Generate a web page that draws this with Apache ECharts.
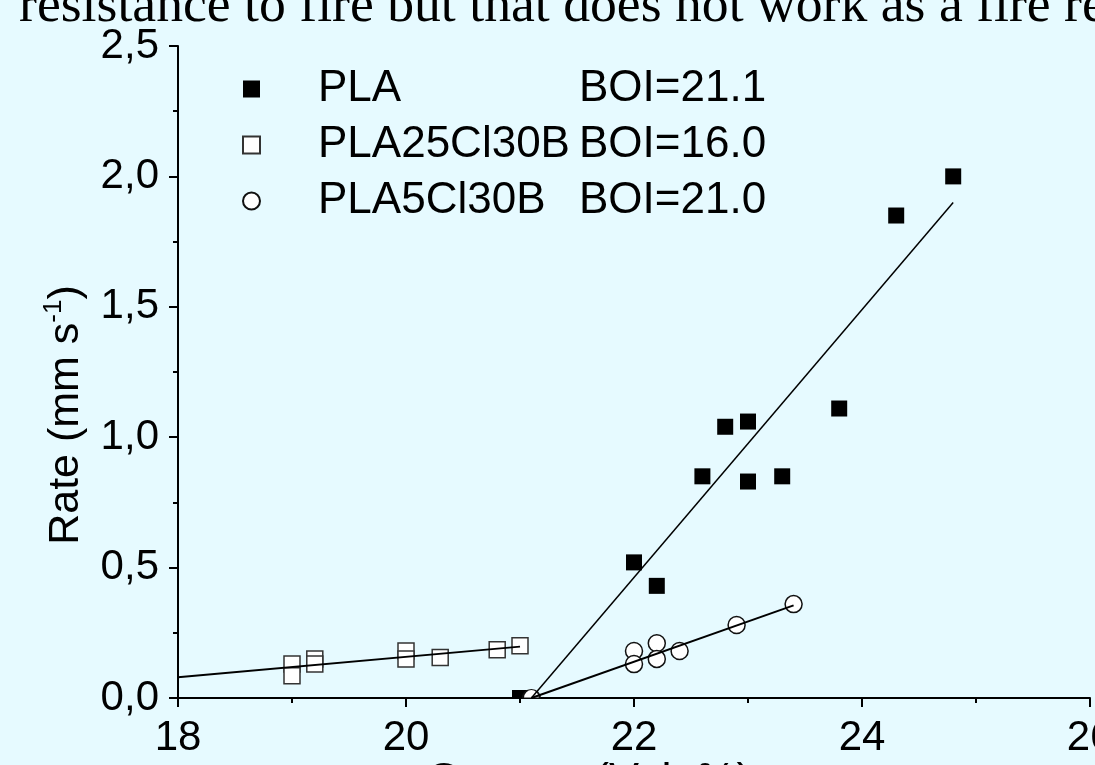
<!DOCTYPE html>
<html>
<head>
<meta charset="utf-8">
<script src="https://cdn.jsdelivr.net/npm/echarts@6/dist/echarts.min.js"></script>
<style>
html,body{margin:0;padding:0;background:#E6FAFF;}
#chart{width:1095px;height:765px;}
</style>
</head>
<body>
<div id="chart"></div>
<script>
// ---- data ----
const seriesNames = ['PLA', 'PLA25Cl30B', 'PLA5Cl30B'];
const boiValues = ['21.1', '16.0', '21.0'];

const plaX = [21.0, 22.0, 22.2, 22.6, 22.8, 23.0, 23.0, 23.3, 23.8, 24.3, 24.8];
const plaY = [0.0, 0.52, 0.43, 0.85, 1.04, 1.06, 0.83, 0.85, 1.11, 1.85, 2.00];

const cl25X = [19.0, 19.0, 19.2, 19.2, 20.0, 20.0, 20.3, 20.8, 21.0];
const cl25Y = [0.13, 0.085, 0.15, 0.13, 0.18, 0.15, 0.155, 0.185, 0.20];

const cl5X = [21.1, 22.0, 22.0, 22.2, 22.2, 22.4, 22.9, 23.4];
const cl5Y = [0.0, 0.18, 0.13, 0.21, 0.15, 0.18, 0.28, 0.36];

const plaFitX = [21.1, 24.8];
const plaFitY = [0.0, 1.90];
const cl25FitX = [18.0, 21.0];
const cl25FitY = [0.08, 0.197];
const cl5FitX = [21.1, 23.4];
const cl5FitY = [0.0, 0.355];

const xTicks = { min: 18, max: 26, interval: 2 };
const yTicks = { min: 0, max: 2.5, interval: 0.5 };

const titleText = 'resistance to fire but that does not work as a fire retardant';
const xName = 'Oxygen (Vol. %)';

// ---- helpers ----
const SANS = '"Liberation Sans", Arial, sans-serif';
const SERIF = '"Liberation Serif", "Times New Roman", serif';
const pairs = (xs, ys) => xs.map((x, i) => [x, ys[i]]);
const halfSquare = 'path://M0,0 L16,0 L16,8 L0,8 Z';
const halfCircle = 'path://M0,10 A10,10 0 0 1 20,10 Z';
function withHalf(xs, ys, sym, size) {
  return xs.map((x, i) => {
    if (ys[i] === 0) {
      return { value: [x, ys[i]], symbol: sym, symbolSize: [size, size / 2], symbolOffset: [0, -size / 4] };
    }
    return [x, ys[i]];
  });
}

const chart = echarts.init(document.getElementById('chart'), null, { renderer: 'canvas' });

const option = {
  backgroundColor: '#E6FAFF',
  animation: false,
  grid: { left: 178, right: 5, top: 46, bottom: 67, containLabel: false, outerBoundsMode: 'none' },
  xAxis: {
    type: 'value',
    min: xTicks.min, max: xTicks.max, interval: xTicks.interval,
    axisLine: { show: true, lineStyle: { color: '#000', width: 2 } },
    axisTick: { show: true, inside: false, length: 9, lineStyle: { color: '#000', width: 2 } },
    minorTick: { show: true, splitNumber: 2, length: 5, lineStyle: { color: '#000', width: 2 } },
    splitLine: { show: false },
    axisLabel: { color: '#000', fontSize: 42, fontFamily: SANS, margin: 19, showMaxLabel: true, hideOverlap: false }
  },
  yAxis: {
    type: 'value',
    min: yTicks.min, max: yTicks.max, interval: yTicks.interval,
    axisLine: { show: true, lineStyle: { color: '#000', width: 2 } },
    axisTick: { show: true, inside: false, length: 9, lineStyle: { color: '#000', width: 2 } },
    minorTick: { show: true, splitNumber: 2, length: 5, lineStyle: { color: '#000', width: 2 } },
    splitLine: { show: false },
    axisLabel: {
      color: '#000', fontSize: 42, fontFamily: SANS, margin: 19,
      formatter: v => v.toFixed(1).replace('.', ',')
    }
  },
  legend: {
    show: true,
    orient: 'vertical',
    left: 237, top: 61,
    itemWidth: 17, itemHeight: 17,
    itemGap: 10,
    data: seriesNames,
    selectedMode: false,
    formatter: name => {
      const i = seriesNames.indexOf(name);
      return '{n|' + name + '}{b|BOI=' + boiValues[i] + '}';
    },
    textStyle: {
      color: '#000', fontFamily: SANS, fontSize: 44, lineHeight: 46,
      rich: {
        n: { fontSize: 44, fontFamily: SANS, color: '#000', width: 261, padding: [0, 0, 0, 53] },
        b: { fontSize: 44, fontFamily: SANS, color: '#000' }
      }
    }
  },
  graphic: [
    {
      type: 'text', left: 19, top: -20, silent: true,
      style: { text: titleText, font: '53.7px ' + SERIF, fill: '#000' }
    },
    {
      type: 'text', x: 66, y: 415, rotation: Math.PI / 2, silent: true,
      style: {
        text: '{m|Rate (mm s}{s|-1}{m|)}',
        align: 'center', verticalAlign: 'middle',
        rich: {
          m: { fontSize: 43, fontFamily: SANS, fill: '#000', lineHeight: 50 },
          s: { fontSize: 26, fontFamily: SANS, fill: '#000', lineHeight: 26, verticalAlign: 'top' }
        }
      }
    },
    {
      type: 'text', x: 589, y: 804, silent: true,
      style: { text: xName, font: '45px ' + SANS, fill: '#000', align: 'center', verticalAlign: 'bottom' }
    }
  ],
  series: [
    {
      name: 'PLA fit', type: 'line', data: pairs(plaFitX, plaFitY), symbol: 'none', silent: true,
      lineStyle: { color: '#000', width: 1.5 }, z: 3
    },
    {
      name: 'PLA25Cl30B fit', type: 'line', data: pairs(cl25FitX, cl25FitY), symbol: 'none', silent: true,
      lineStyle: { color: '#000', width: 2 }, z: 3
    },
    {
      name: 'PLA5Cl30B fit', type: 'line', data: pairs(cl5FitX, cl5FitY), symbol: 'none', silent: true,
      lineStyle: { color: '#000', width: 2 }, z: 3
    },
    {
      name: 'PLA', type: 'scatter', data: withHalf(plaX, plaY, halfSquare, 16),
      symbol: 'rect', symbolSize: 16,
      itemStyle: { color: '#000', opacity: 1 }, z: 2
    },
    {
      name: 'PLA25Cl30B', type: 'scatter', data: pairs(cl25X, cl25Y),
      symbol: 'rect', symbolSize: 16,
      itemStyle: { color: '#fff', borderColor: '#333', borderWidth: 1.5, opacity: 1 }, z: 2
    },
    {
      name: 'PLA5Cl30B', type: 'scatter', data: withHalf(cl5X, cl5Y, halfCircle, 17),
      symbol: 'circle', symbolSize: 17,
      itemStyle: { color: '#fff', borderColor: '#111', borderWidth: 1.5, opacity: 1 }, z: 2
    }
  ]
};
chart.setOption(option);
</script>
</body>
</html>
